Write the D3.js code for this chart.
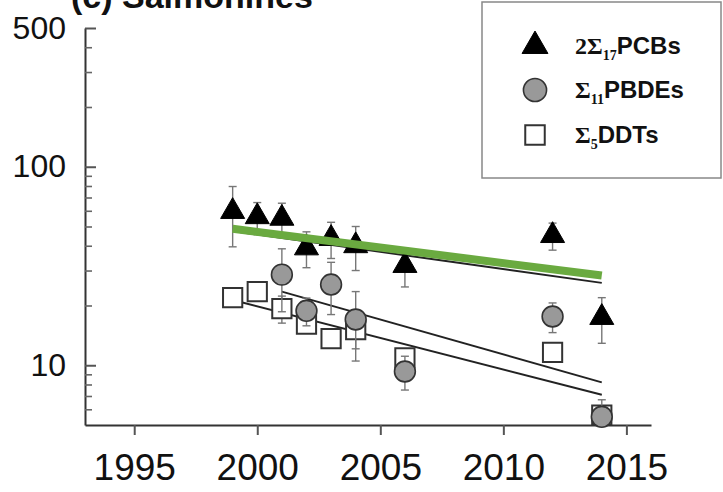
<!DOCTYPE html>
<html>
<head>
<meta charset="utf-8">
<script src="https://cdn.jsdelivr.net/npm/d3@7"></script>
<style>
  html, body { margin: 0; padding: 0; background: #fff; }
  svg { display: block; }
  text { font-family: "Liberation Sans", Arial, Helvetica, sans-serif; fill: #111; }
</style>
</head>
<body>
<script>
// Salmonine contaminant concentrations (log scale), mean ± SD per sampling year
const pcbYears  = [1999, 2000, 2001, 2002, 2003, 2004, 2006, 2012, 2014];
const pcbMean   = [59.5, 56, 55, 39, 43.5, 40, 31.8, 45, 17.4];
const pcbSd     = [20, 10, 10.5, 8, 9, 10, 7, 7, 4.5];

const pbdeYears = [2001, 2002, 2003, 2004, 2006, 2012, 2014];
const pbdeMean  = [28.6, 18.8, 25.5, 17, 9.3, 17.6, 5.5];
const pbdeSd    = [10, 3, 7.5, 6.5, 1.8, 3, 1.2];

const ddtYears  = [1999, 2000, 2001, 2002, 2003, 2004, 2006, 2012, 2014];
const ddtMean   = [21.9, 23.5, 19.3, 16.1, 13.6, 15.1, 10.9, 11.6, 5.6];
const ddtSd     = [1.2, 1.2, 3, 1.5, 1.2, 3, 1, 0.8, 0.5];

// Log-linear trend lines, given by their end points [year, value]
const pcbFit    = [[1999, 47.4], [2014, 26.0]];
const pcbFitAlt = [[1999, 48.7], [2014, 28.3]];
const pbdeFit   = [[2001, 23.5], [2014, 8.2]];
const ddtFit    = [[1999, 21.3], [2014, 7.1]];

const xTicks = [1995, 2000, 2005, 2010, 2015];
const yMajorTicks = [10, 100, 500];
const yMinorTicks = [6, 7, 8, 9, 20, 30, 40, 50, 60, 70, 80, 90, 200, 300, 400];

const W = 723, H = 492;
const svg = d3.select("body").append("svg").attr("width", W).attr("height", H);
svg.append("rect").attr("width", W).attr("height", H).attr("fill", "#fff");

const x = d3.scaleLinear().domain([1993, 2016]).range([85, 651]);
const y = d3.scaleLog().domain([5, 500]).range([425, 28]);

// Title (runs off the top edge of the panel)
svg.append("text").attr("x", 71).attr("y", 8)
  .attr("font-size", 34).attr("font-weight", "bold")
  .text("(c) Salmonines");

// X axis
const gx = svg.append("g").attr("transform", `translate(0,${y(5)})`)
  .call(d3.axisBottom(x).tickValues(xTicks).tickFormat(d3.format("d"))
    .tickSize(10).tickSizeOuter(0).tickPadding(19));
gx.select(".domain").attr("stroke", "#333").attr("stroke-width", 2);
gx.selectAll(".tick line").attr("stroke", "#555").attr("stroke-width", 2);
gx.selectAll(".tick text").attr("font-size", 37).attr("fill", "#111")
  .attr("font-family", "Liberation Sans, Arial, sans-serif");

// Y axis: major ticks with labels, minor ticks inward
const gy = svg.append("g").attr("transform", `translate(${x(1993)},0)`)
  .call(d3.axisLeft(y).tickValues(yMajorTicks).tickFormat(d3.format("d"))
    .tickSize(-11).tickSizeOuter(0).tickPadding(19));
gy.select(".domain").attr("stroke", "#333").attr("stroke-width", 2);
gy.selectAll(".tick line").attr("stroke", "#555").attr("stroke-width", 2);
gy.selectAll(".tick text").attr("font-size", 32).attr("fill", "#111")
  .attr("font-family", "Liberation Sans, Arial, sans-serif");

const gyMinor = svg.append("g").attr("transform", `translate(${x(1993)},0)`)
  .call(d3.axisLeft(y).tickValues(yMinorTicks).tickFormat("").tickSize(-7).tickSizeOuter(0));
gyMinor.select(".domain").remove();
gyMinor.selectAll(".tick line").attr("stroke", "#666").attr("stroke-width", 1.6);

// Trend lines
const line = d3.line().x(d => x(d[0])).y(d => y(d[1]));
[pcbFit, pbdeFit, ddtFit].forEach(f => {
  svg.append("path").attr("d", line(f)).attr("fill", "none")
    .attr("stroke", "#222").attr("stroke-width", 2);
});

// Error bars and markers
function series(years, mean, sd, symbol, size, fill, stroke, sw) {
  const data = years.map((yr, i) => ({ yr, m: mean[i], s: sd[i] }));
  const g = svg.append("g");
  const eb = g.append("g").attr("stroke", "#777").attr("stroke-width", 1.4).attr("fill", "none");
  data.forEach(d => {
    const lo = y(Math.max(d.m - d.s, 5)), hi = y(d.m + d.s), cx = x(d.yr);
    eb.append("line").attr("x1", cx).attr("x2", cx).attr("y1", lo).attr("y2", hi);
    eb.append("line").attr("x1", cx - 4).attr("x2", cx + 4).attr("y1", lo).attr("y2", lo);
    eb.append("line").attr("x1", cx - 4).attr("x2", cx + 4).attr("y1", hi).attr("y2", hi);
  });
  g.selectAll("path.mark").data(data).join("path").attr("class", "mark")
    .attr("transform", d => `translate(${x(d.yr)},${y(d.m)})`)
    .attr("d", d3.symbol().type(symbol).size(size))
    .attr("fill", fill).attr("stroke", stroke).attr("stroke-width", sw);
}
series(ddtYears, ddtMean, ddtSd, d3.symbolSquare, 370, "#fff", "#333", 2);
series(pbdeYears, pbdeMean, pbdeSd, d3.symbolCircle, 340, "#999", "#333", 1.6);
series(pcbYears, pcbMean, pcbSd, d3.symbolTriangle, 250, "#000", "#000", 1);

// Highlighted PCB trend
svg.append("path").attr("d", line(pcbFitAlt)).attr("fill", "none")
  .attr("stroke", "#6aaa40").attr("stroke-width", 8);

// Legend
const lg = svg.append("g");
lg.append("rect").attr("x", 482).attr("y", 2).attr("width", 239).attr("height", 176)
  .attr("fill", "#fff").attr("stroke", "#888").attr("stroke-width", 1.5);
const legendItems = [
  { sym: d3.symbolTriangle, size: 290, fill: "#000", stroke: "#000", sw: 1, pre: "2Σ", sub: "17", name: "PCBs" },
  { sym: d3.symbolCircle, size: 420, fill: "#999", stroke: "#333", sw: 1.6, pre: "Σ", sub: "11", name: "PBDEs" },
  { sym: d3.symbolSquare, size: 380, fill: "#fff", stroke: "#333", sw: 2, pre: "Σ", sub: "5", name: "DDTs" }
];
const legendY = [46, 90, 135];
legendItems.forEach((it, i) => {
  lg.append("path").attr("transform", `translate(535,${legendY[i]})`)
    .attr("d", d3.symbol().type(it.sym).size(it.size))
    .attr("fill", it.fill).attr("stroke", it.stroke).attr("stroke-width", it.sw);
  const t = lg.append("text").attr("x", 575).attr("y", legendY[i] + 8)
    .attr("font-size", 24).attr("font-weight", "bold");
  t.append("tspan").attr("font-family", "Liberation Serif, Times New Roman, serif").text(it.pre);
  t.append("tspan").attr("font-family", "Liberation Serif, Times New Roman, serif")
    .attr("font-size", 14).attr("dy", 6).text(it.sub);
  t.append("tspan").attr("dy", -6).text(it.name);
});
</script>
</body>
</html>
